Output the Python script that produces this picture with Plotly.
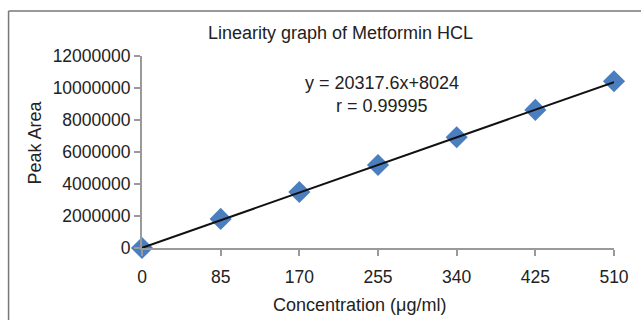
import plotly.graph_objects as go

concentration = [0, 85, 170, 255, 340, 425, 510]
peak_area = [0, 1820000, 3500000, 5190000, 6920000, 8630000, 10420000]
slope = 20317.6
intercept = 8024
x_tick_labels = ["0", "85", "170", "255", "340", "425", "510"]
y_tick_vals = [0, 2000000, 4000000, 6000000, 8000000, 10000000, 12000000]
y_tick_labels = [str(v) for v in y_tick_vals]

fit_x = [concentration[0], concentration[-1]]
fit_y = [slope * x + intercept for x in fit_x]

W, H = 641, 320
L, R, T, B = 142, 25, 56, 72
pw, ph = W - L - R, H - T - B

def px(xpix):
    return (xpix - L) / pw

def py(ypix):
    return (H - B - ypix) / ph

font = "Liberation Sans, Arial, sans-serif"
txt = "#222222"
axc = "#9a9a9a"

fig = go.Figure()
fig.add_trace(go.Scatter(
    x=concentration, y=peak_area, mode="markers",
    marker=dict(symbol="diamond", size=17, color="#4a7ebf"),
    showlegend=False, cliponaxis=False,
))
fig.add_trace(go.Scatter(
    x=fit_x, y=fit_y, mode="lines",
    line=dict(color="#111111", width=2),
    showlegend=False, cliponaxis=False,
))

fig.update_layout(
    width=W, height=H,
    margin=dict(l=L, r=R, t=T, b=B),
    paper_bgcolor="white", plot_bgcolor="white",
    font=dict(family=font, size=18, color=txt),
    xaxis=dict(
        range=[0, 510], tickvals=concentration, ticktext=x_tick_labels,
        showgrid=False, zeroline=False, showline=True, linecolor=axc, linewidth=2,
        ticks="outside", ticklen=6, tickcolor=axc, tickwidth=2,
        tickfont=dict(size=17.5, color=txt), ticklabelstandoff=6,
    ),
    yaxis=dict(
        range=[0, 12000000], tickvals=y_tick_vals, ticktext=y_tick_labels,
        showgrid=False, zeroline=False, showline=True, linecolor=axc, linewidth=2,
        ticks="outside", ticklen=6, tickcolor=axc, tickwidth=2,
        tickfont=dict(size=17.5, color=txt),
    ),
    annotations=[
        dict(text="Linearity graph of Metformin HCL", x=px(341), y=py(33),
             xref="paper", yref="paper", showarrow=False, font=dict(size=18, color=txt),
             xanchor="center", yanchor="middle"),
        dict(text="y = 20317.6x+8024", x=px(383), y=py(83),
             xref="paper", yref="paper", showarrow=False, font=dict(size=18, color=txt),
             xanchor="center", yanchor="middle"),
        dict(text="r = 0.99995", x=px(383), y=py(106),
             xref="paper", yref="paper", showarrow=False, font=dict(size=18, color=txt),
             xanchor="center", yanchor="middle"),
        dict(text="Concentration (μg/ml)", x=px(360), y=py(305),
             xref="paper", yref="paper", showarrow=False, font=dict(size=18, color=txt),
             xanchor="center", yanchor="middle"),
        dict(text="Peak Area", x=px(35), y=py(142), textangle=-90,
             xref="paper", yref="paper", showarrow=False, font=dict(size=18, color=txt),
             xanchor="center", yanchor="middle"),
    ],
    shapes=[
        dict(type="line", xref="paper", yref="paper", x0=px(8), x1=px(660), y0=py(11), y1=py(11),
             line=dict(color="#777777", width=1.5)),
        dict(type="line", xref="paper", yref="paper", x0=px(8), x1=px(8), y0=py(11), y1=py(340),
             line=dict(color="#777777", width=1.5)),
    ],
)

fig.write_html("out.html")
